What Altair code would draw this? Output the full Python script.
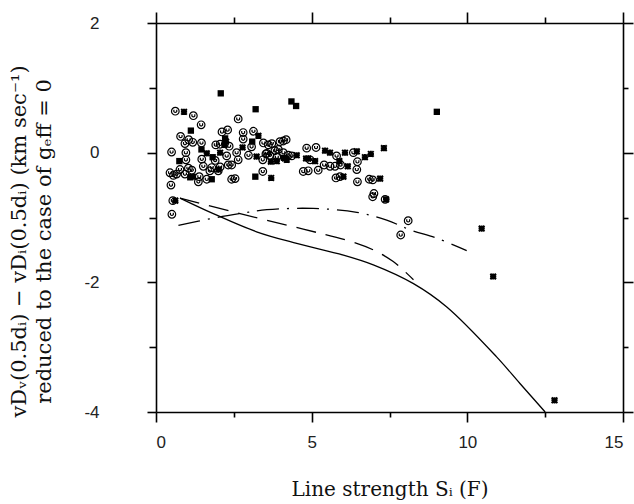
import altair as alt
import pandas as pd

# ---- data ----
circ_x = [0.62, 1.2, 1.45, 2.64, 0.79, 1.05, 1.18, 1.46, 0.93, 2.3, 2.12, 1.92, 2.06, 2.35, 2.8, 3.13,
          2.8, 3.07, 3.45, 3.61, 3.72, 3.98, 4.09, 4.18, 3.82, 3.93, 3.56, 3.66, 4.09, 4.25, 4.36, 3.43,
          4.84, 5.14, 0.5, 0.96, 0.96, 1.47, 1.9, 2.27, 2.59, 2.97, 3.53, 3.88, 2.64, 2.32, 2.43, 1.52,
          1.79, 2.06, 1.04, 1.15, 0.77, 0.45, 0.56, 0.66, 0.93, 1.39, 1.63, 1.36, 1.73, 2.0, 2.43, 2.54,
          3.43, 0.48, 0.54, 0.51, 4.73, 4.89, 5.21, 4.95, 5.8, 6.34, 6.47, 5.4, 5.59, 5.75, 5.93, 6.45,
          5.78, 5.91, 6.47, 6.85, 6.96, 7.0, 6.96, 7.36, 8.1, 7.86]
circ_y = [0.64, 0.57, 0.43, 0.52, 0.25, 0.2, 0.16, 0.15, 0.14, 0.35, 0.32, 0.12, 0.13, 0.1, 0.31, 0.33,
          0.21, 0.09, 0.15, 0.12, 0.14, 0.17, 0.18, 0.2, 0.03, 0.05, -0.01, -0.04, 0.0, -0.04, -0.05, -0.11,
          0.07, 0.08, 0.01, 0.0, -0.11, -0.1, -0.12, -0.05, 0.0, -0.04, -0.02, -0.07, -0.11, -0.19, -0.19, -0.21,
          -0.23, -0.22, -0.24, -0.27, -0.26, -0.31, -0.35, -0.33, -0.33, -0.37, -0.41, -0.45, -0.28, -0.28, -0.41, -0.4,
          -0.29, -0.5, -0.74, -0.95, -0.29, -0.28, -0.27, -0.11, -0.05, 0.0, -0.14, -0.19, -0.21, -0.21, -0.19, -0.26,
          -0.39, -0.37, -0.45, -0.41, -0.42, -0.63, -0.68, -0.72, -1.05, -1.27]

sq_x = [2.08, 3.2, 4.35, 4.5, 1.12, 0.75, 1.46, 1.82, 1.79, 3.19, 3.09, 2.22, 1.1, 4.11, 9.02, 2.2]
sq_y = [0.915, 0.67, 0.79, 0.72, 0.34, -0.13, 0.05, -0.07, -0.41, -0.37, 0.17, 0.22, -0.38, -0.08, 0.63, 0.12]

ast_x = [0.9, 0.62, 2.06, 2.25, 2.78, 3.29, 3.7, 3.23, 3.69, 3.88, 4.14, 4.2, 4.52, 4.82, 1.63, 1.18,
         2.0, 5.43, 5.59, 6.07, 6.45, 6.71, 6.9, 7.32, 5.89, 6.16, 6.02, 7.2, 5.11, 4.89, 7.39, 10.46,
         10.83, 12.8]
ast_y = [0.63, -0.74, 0.0, 0.17, 0.08, 0.26, -0.39, -0.06, -0.14, -0.13, -0.09, -0.11, -0.04, -0.09, -0.01, -0.37,
         -0.26, 0.03, 0.0, 0.0, 0.02, -0.07, -0.02, 0.07, -0.13, -0.21, -0.37, -0.4, -0.13, -0.09, -0.72, -1.17,
         -1.91, -3.82]

solid_x = [0.77, 1.84, 3.23, 4.52, 6.02, 6.98, 8.27, 9.34, 10.94, 11.69, 12.5]
solid_y = [-0.7, -0.94, -1.22, -1.4, -1.58, -1.73, -2.02, -2.38, -3.15, -3.56, -4.0]

dash_x = [0.77, 2.7, 4.73, 6.13, 6.98, 7.62, 8.27]
dash_y = [-0.7, -0.94, -1.18, -1.35, -1.5, -1.68, -1.96]

dd_x = [0.72, 1.84, 2.7, 3.56, 5.05, 6.45, 7.41, 8.16, 9.02, 9.98]
dd_y = [-1.12, -1.01, -0.94, -0.88, -0.86, -0.92, -1.04, -1.19, -1.32, -1.51]

x_ticks = [0, 2.5, 5, 7.5, 10, 12.5, 15]
y_ticks = [-4, -3, -2, -1, 0, 1, 2]

# ---- build tables ----
circ = pd.DataFrame({"x": circ_x, "y": circ_y})
sq = pd.DataFrame({"x": sq_x, "y": sq_y})
ast = pd.DataFrame({"x": ast_x, "y": ast_y})
solid = pd.DataFrame({"x": solid_x, "y": solid_y})
dash = pd.DataFrame({"x": dash_x, "y": dash_y})
dd = pd.DataFrame({"x": dd_x, "y": dd_y})

xs = alt.Scale(domain=[0, 15], nice=False, zero=False)
ys = alt.Scale(domain=[-4, 2], nice=False, zero=False)

tick_font = "Liberation Sans"
title_font = "DejaVu Serif"
ax_common = dict(domainColor="#000", domainWidth=1.6, tickColor="#000", tickWidth=1.6, grid=False)

x_main = alt.Axis(
    values=x_ticks, orient="bottom",
    labelExpr="datum.value % 5 === 0 ? '' + datum.value : ''",
    tickSize={"condition": {"test": "datum.value % 5 === 0", "value": 10}, "value": 5},
    labelPadding=12, labelFont=tick_font, labelFontSize=17, labelColor="#222",
    title="Line strength Sᵢ (F)", titleFont=title_font, titleFontSize=20,
    titleFontWeight="normal", titleColor="#111", titleY=83, titleBaseline="alphabetic",
    **ax_common,
)
y_main = alt.Axis(
    values=y_ticks, orient="left",
    labelExpr="datum.value % 2 === 0 ? '' + datum.value : ''",
    tickSize={"condition": {"test": "datum.value % 2 === 0", "value": 9}, "value": 7},
    labelPadding=48, labelFont=tick_font, labelFontSize=17, labelColor="#222",
    title=["vDᵥ(0.5dᵢ) − vDᵢ(0.5dᵢ) (km sec⁻¹)", "reduced to the case of gₑff = 0"],
    titleFont=title_font, titleFontSize=21, titleFontWeight="normal", titleColor="#111",
    titleAngle=270, titleX=-148, titleY=218, titleAlign="center", titleBaseline="top",
    titleLineHeight=25,
    **ax_common,
)
x_top = alt.Axis(values=x_ticks, orient="top", labels=False, title=None,
                 tickSize={"condition": {"test": "datum.value % 5 === 0", "value": 11}, "value": 6},
                 **ax_common)
y_right = alt.Axis(values=y_ticks, orient="right", labels=False, title=None,
                   tickSize={"condition": {"test": "datum.value % 2 === 0", "value": 10}, "value": 5},
                   **ax_common)

circle_path = ("M-1,0A1,1,0,1,1,1,0A1,1,0,1,1,-1,0Z"
               "M-0.38,-0.4L-0.38,0.1Q0,0.55,0.38,0.1L0.38,-0.4")
ast_path = "M-1,-1L1,1M-1,1L1,-1M0,-1.1L0,1.1M-1.1,0L1.1,0"

pts_c = alt.Chart(circ).mark_point(shape=circle_path, filled=False, color="black",
                                   strokeWidth=1.2, size=58, opacity=1).encode(
    x=alt.X("x:Q", scale=xs, axis=x_main), y=alt.Y("y:Q", scale=ys, axis=y_main))
pts_s = alt.Chart(sq).mark_point(shape="square", filled=True, color="black", size=40, opacity=1).encode(
    x=alt.X("x:Q", scale=xs), y=alt.Y("y:Q", scale=ys))
pts_a = alt.Chart(ast).mark_point(shape=ast_path, filled=False, color="black",
                                  strokeWidth=2, size=32, opacity=1).encode(
    x=alt.X("x:Q", scale=xs), y=alt.Y("y:Q", scale=ys))

l_solid = alt.Chart(solid).mark_line(color="black", strokeWidth=1.3, interpolate="catmull-rom").encode(
    x=alt.X("x:Q", scale=xs), y=alt.Y("y:Q", scale=ys), order="x:Q")
l_dash = alt.Chart(dash).mark_line(color="black", strokeWidth=1.3, strokeDash=[20, 10],
                                   interpolate="catmull-rom").encode(
    x=alt.X("x:Q", scale=xs), y=alt.Y("y:Q", scale=ys), order="x:Q")
l_dd = alt.Chart(dd).mark_line(color="black", strokeWidth=1.3, strokeDash=[22, 8, 2, 8],
                               interpolate="catmull-rom").encode(
    x=alt.X("x:Q", scale=xs), y=alt.Y("y:Q", scale=ys), order="x:Q")

main = alt.layer(pts_c, pts_s, pts_a, l_solid, l_dash, l_dd)

frame = alt.Chart(solid).mark_point(opacity=0).encode(
    x=alt.X("x:Q", scale=xs, axis=x_top), y=alt.Y("y:Q", scale=ys, axis=y_right))

chart = alt.layer(main, frame).resolve_axis(x="independent", y="independent").properties(
    width=467, height=389,
    autosize=alt.AutoSizeParams(type="none"),
    padding={"left": 156, "top": 23, "right": 11, "bottom": 92},
).configure_view(stroke=None).configure(background="white")

chart.save("out.html", embed_options={"renderer": "svg", "actions": False})
